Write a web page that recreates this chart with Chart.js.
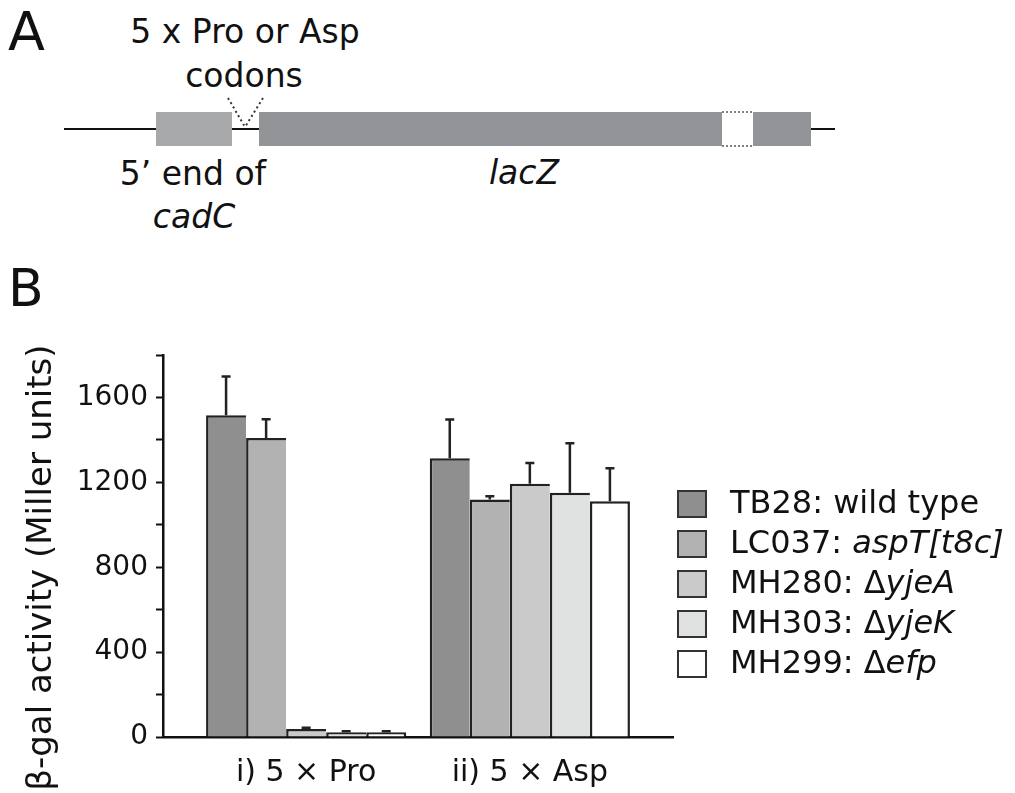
<!DOCTYPE html>
<html>
<head>
<meta charset="utf-8">
<script src="https://cdn.jsdelivr.net/npm/chart.js@4"></script>
<style>
  html, body { margin: 0; padding: 0; background: #fff; }
  #page { position: relative; width: 1015px; height: 793px; overflow: hidden; font-family: 'DejaVu Sans', sans-serif; color: #111; }
  #panelA { position: absolute; left: 0; top: 0; }
  .letter { position: absolute; font-size: 52px; line-height: 52px; }
  #chartBox { position: absolute; left: 0; top: 300px; width: 1015px; height: 493px; }
  #legend { position: absolute; left: 677px; top: 486px; }
  .row { position: absolute; left: 0; height: 32px; white-space: nowrap; }
  .box { position: absolute; left: 0; top: 4px; width: 30px; height: 28px; box-sizing: border-box; border: 2px solid #333; }
  .txt { position: absolute; left: 53px; top: 0; font-size: 32px; line-height: 32px; }
</style>
</head>
<body>
<div id="page">
  <svg id="panelA" width="1015" height="260" font-family="DejaVu Sans" fill="#111">
    <text x="8" y="50" font-size="54">A</text>
    <text x="245" y="43" font-size="33" text-anchor="middle">5 x Pro or Asp</text>
    <text x="244" y="87" font-size="33" text-anchor="middle">codons</text>
    <line x1="64" y1="129" x2="835" y2="129" stroke="#111" stroke-width="2"/>
    <rect x="156" y="112" width="76" height="34" fill="#a7a8aa"/>
    <rect x="259" y="112" width="463" height="34" fill="#939497"/>
    <rect x="722" y="112" width="31" height="34" fill="#fff"/>
    <line x1="722" y1="112" x2="753" y2="112" stroke="#555" stroke-width="1.5" stroke-dasharray="2 2"/>
    <line x1="722" y1="146" x2="753" y2="146" stroke="#555" stroke-width="1.5" stroke-dasharray="2 2"/>
    <rect x="753" y="112" width="58" height="34" fill="#939497"/>
    <line x1="228" y1="98" x2="245" y2="127" stroke="#333" stroke-width="2" stroke-dasharray="2 3"/>
    <line x1="263" y1="98" x2="245" y2="127" stroke="#333" stroke-width="2" stroke-dasharray="2 3"/>
    <text x="193" y="185" font-size="33" text-anchor="middle">5’ end of</text>
    <text x="194" y="228" font-size="33" text-anchor="middle" font-style="italic">cadC</text>
    <text x="524" y="184" font-size="33" text-anchor="middle" font-style="italic">lacZ</text>
  </svg>
  <div class="letter" style="left:8px; top:262px;">B</div>
  <div id="chartBox"><canvas id="chart"></canvas></div>
  <div id="legend"></div>
</div>
<script>
// values (Miller units), one entry per construct: Pro, Asp
const groupLabels = ['i) 5 × Pro', 'ii) 5 × Asp'];
const strainIds = ['TB28', 'LC037', 'MH280', 'MH303', 'MH299'];
const genotypes = ['wild type', 'aspT[t8c]', 'ΔyjeA', 'ΔyjeK', 'Δefp'];

const tb28Values = [1516, 1313];
const tb28Errors = [183, 183];
const lc037Values = [1409, 1119];
const lc037Errors = [88, 16];
const mh280Values = [38, 1193];
const mh280Errors = [5, 98];
const mh303Values = [22, 1151];
const mh303Errors = [5, 233];
const mh299Values = [22, 1111];
const mh299Errors = [5, 155];

const yTickLabels = [0, 400, 800, 1200, 1600];

const seriesValues = [tb28Values, lc037Values, mh280Values, mh303Values, mh299Values];
const seriesErrors = [tb28Errors, lc037Errors, mh280Errors, mh303Errors, mh299Errors];
const fills = ['#8f8f8f', '#b2b2b2', '#cacaca', '#e0e1e1', '#ffffff'];

Chart.defaults.font.family = "'DejaVu Sans', sans-serif";
Chart.defaults.color = '#111';

// one sided error bars, drawn over the bars
const errorBars = {
    id: 'errorBars',
    afterDatasetsDraw(chart) {
        const ctx = chart.ctx;
        const y = chart.scales.y;
        ctx.save();
        ctx.strokeStyle = '#222';
        ctx.lineWidth = 2.5;
        chart.data.datasets.forEach((ds, i) => {
            chart.getDatasetMeta(i).data.forEach((bar, j) => {
                const top = y.getPixelForValue(ds.data[j].y + ds.errors[j]);
                ctx.beginPath();
                ctx.moveTo(bar.x, bar.y);
                ctx.lineTo(bar.x, top);
                ctx.moveTo(bar.x - 4.5, top);
                ctx.lineTo(bar.x + 4.5, top);
                ctx.stroke();
            });
        });
        ctx.restore();
    }
};

const datasets = strainIds.map((id, i) => ({
    label: id + ': ' + genotypes[i],
    data: seriesValues[i].map((v, j) => ({ x: j, y: v })),
    errors: seriesErrors[i],
    backgroundColor: fills[i],
    borderColor: '#222',
    borderWidth: { top: 2.5, left: 2.5, right: i === strainIds.length - 1 ? 2.5 : 0, bottom: 0 },
    borderSkipped: false
}));

new Chart(document.getElementById('chart'), {
    type: 'bar',
    data: { datasets },
    options: {
        responsive: true,
        maintainAspectRatio: false,
        animation: false,
        categoryPercentage: 0.895,
        barPercentage: 1,
        layout: { padding: { top: 55, right: 342, bottom: 0, left: 0 } },
        plugins: {
            legend: { display: false },
            tooltip: { enabled: false }
        },
        scales: {
            x: {
                type: 'linear',
                offset: false,
                min: -0.64,
                max: 1.64,
                grid: { display: false, drawTicks: false },
                border: { display: true, color: '#111', width: 2.5 },
                afterBuildTicks: scale => {
                    scale.ticks = groupLabels.map((_, i) => ({ value: i }));
                },
                afterFit: scale => { scale.height = 56; },
                ticks: {
                    callback: v => groupLabels[v] ?? '',
                    font: { size: 30 },
                    color: '#111',
                    padding: 18,
                    maxRotation: 0,
                    autoSkip: false
                }
            },
            y: {
                min: 0,
                max: 1800,
                afterFit: scale => { scale.width = 163; },
                grid: {
                    display: true,
                    drawOnChartArea: false,
                    drawTicks: true,
                    tickLength: 7,
                    tickColor: '#111',
                    tickWidth: 2
                },
                border: { display: true, color: '#111', width: 2.5 },
                ticks: {
                    stepSize: 200,
                    font: { size: 28 },
                    color: '#111',
                    padding: 8,
                    callback: v => yTickLabels.includes(v) ? String(v) : ''
                },
                title: {
                    display: true,
                    // trailing spaces push the centred title down a little, as in the figure
                    text: 'β-gal activity (Miller units)    ',
                    font: { size: 34 },
                    color: '#111',
                    padding: { top: 22, bottom: 0 }
                }
            }
        }
    },
    plugins: [errorBars]
});

// legend with italic genotype names
const legend = document.getElementById('legend');
strainIds.forEach((id, i) => {
    const row = document.createElement('div');
    row.className = 'row';
    row.style.top = (i * 40) + 'px';
    const box = document.createElement('div');
    box.className = 'box';
    box.style.background = fills[i];
    const txt = document.createElement('div');
    txt.className = 'txt';
    const g = genotypes[i];
    let html = id + ': ';
    if (i === 0) html += g;
    else if (g.startsWith('Δ')) html += 'Δ<i>' + g.slice(1) + '</i>';
    else html += '<i>' + g + '</i>';
    txt.innerHTML = html;
    row.appendChild(box);
    row.appendChild(txt);
    legend.appendChild(row);
});
</script>
</body>
</html>
